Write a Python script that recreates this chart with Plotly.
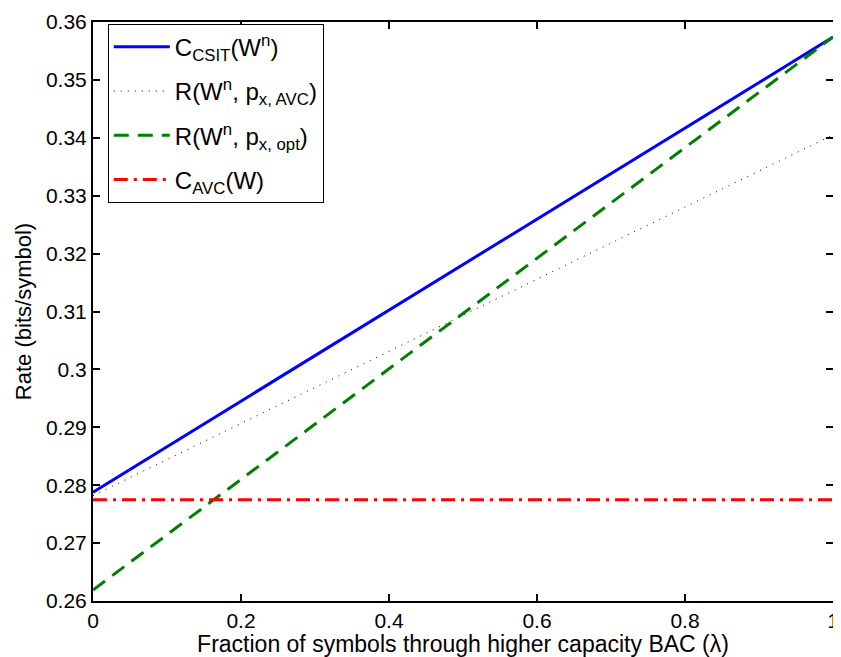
import plotly.graph_objects as go

lam = [0.0, 1.0]
c_csit = [0.2788, 0.3574]
r_avc = [0.2782, 0.3405]
r_opt = [0.2619, 0.3574]
c_avc = [0.2775, 0.2775]

names = [
    "C<sub>CSIT</sub>(W<sup>n</sup>)",
    "R(W<sup>n</sup>, p<sub>x, AVC</sub>)",
    "R(W<sup>n</sup>, p<sub>x, opt</sub>)",
    "C<sub>AVC</sub>(W)",
]
x_title = "Fraction of symbols through higher capacity BAC (λ)"
y_title = "Rate (bits/symbol)"

FONT = "Liberation Sans, Arial"

fig = go.Figure()
fig.add_trace(go.Scatter(x=lam, y=c_csit, mode="lines", name=names[0],
                         line=dict(color="#0000ff", width=3), legendgroup="a"))
fig.add_trace(go.Scatter(x=lam, y=r_avc, mode="lines", name=names[1],
                         line=dict(color="black", width=1, dash="1px,6px"), legendgroup="b"))
fig.add_trace(go.Scatter(x=lam, y=r_opt, mode="lines", name=names[2],
                         line=dict(color="#008000", width=3, dash="15px,9px"), legendgroup="c"))
fig.add_trace(go.Scatter(x=lam, y=c_avc, mode="lines", name=names[3],
                         line=dict(color="#ff0000", width=3, dash="14px,6px,3px,6px"), legendgroup="d"))

axis_common = dict(
    showline=True, linecolor="black", linewidth=2, mirror="ticks",
    ticks="inside", ticklen=7, tickwidth=1.5, tickcolor="black",
    showgrid=False, zeroline=False, ticklabeloverflow="allow",
    tickfont=dict(family=FONT, size=21, color="black"),
)

fig.update_layout(
    width=833, height=649,
    margin=dict(l=85, r=2, t=4, b=56),
    paper_bgcolor="white", plot_bgcolor="white",
    showlegend=True,
    legend=dict(x=0.02, y=0.997, xanchor="left", yanchor="top",
                bgcolor="white", bordercolor="black", borderwidth=1,
                font=dict(family=FONT, size=24, color="black"),
                itemwidth=56, tracegroupgap=10),
    xaxis=dict(range=[0, 1], tickvals=[0, 0.2, 0.4, 0.6, 0.8, 1],
               ticktext=["0", "0.2", "0.4", "0.6", "0.8", "1"],
               title=dict(text=x_title,
                          font=dict(family=FONT, size=23, color="black"),
                          standoff=3),
               **axis_common),
    yaxis=dict(range=[0.26, 0.36], tickvals=[0.26 + 0.01 * i for i in range(11)],
               ticktext=["0.26", "0.27", "0.28", "0.29", "0.3", "0.31", "0.32",
                         "0.33", "0.34", "0.35", "0.36"],
               title=dict(text=y_title,
                          font=dict(family=FONT, size=22, color="black"),
                          standoff=8),
               **axis_common),
)

fig.write_html("out.html")
